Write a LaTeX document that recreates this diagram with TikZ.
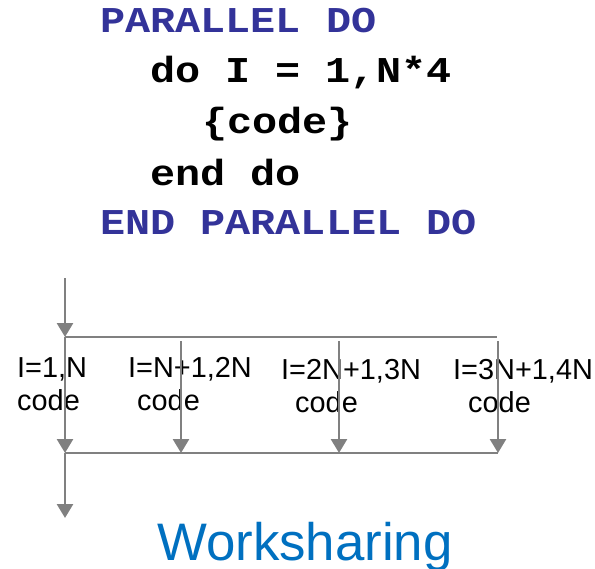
\documentclass[tikz,border=0pt]{standalone}
\usepackage{fontspec}
\setmainfont{Liberation Sans}
\newfontfamily\codefont[FakeStretch=1.15]{Liberation Mono}
\usetikzlibrary{arrows.meta}
\definecolor{kwblue}{RGB}{51,51,153}
\definecolor{titleblue}{RGB}{0,112,192}
\definecolor{flowgray}{RGB}{128,128,128}
\tikzstyle{codeline}=[anchor=base west,inner sep=0pt,font=\codefont\bfseries\fontsize{36.5}{44}\selectfont]
\tikzstyle{iterlabel}=[anchor=base west,inner sep=0pt,font=\fontsize{29}{34}\selectfont]
\tikzstyle{flow}=[draw=flowgray,line width=2.6bp]
\tikzstyle{flowarrow}=[flow,-{Triangle[width=16bp,length=14bp]}]

\begin{document}
\begin{tikzpicture}[x=1bp,y=-1bp]
    \useasboundingbox (0,0) rectangle (595,569);
    % source listing
    \node[codeline,text=kwblue] (l1) at (100,33)  {PARALLEL DO};
    \node[codeline] (l2) at (150,83)  {do I = 1,N*4};
    \node[codeline] (l3) at (202,134) {\{code\}};
    \node[codeline] (l4) at (150,185) {end do};
    \node[codeline,text=kwblue] (l5) at (100,234) {END PARALLEL DO};

    % fork / join points
    \coordinate (start) at (65,278);
    \coordinate (fork)  at (65,337);
    \coordinate (forkend) at (497,337);
    \coordinate (join)  at (65,453);
    \coordinate (joinend) at (498,453);
    \coordinate (stop)  at (65,518);
    \coordinate (t2) at (181,341);
    \coordinate (t3) at (339,341);
    \coordinate (t4) at (498,341);
    \coordinate (b2) at (181,453);
    \coordinate (b3) at (339,453);
    \coordinate (b4) at (498,453);

    % iteration chunks
    \node[iterlabel] (i1) at (17,377)  {I=1,N};
    \node[iterlabel] (c1) at (17,410)  {code};
    \node[iterlabel] (i2) at (128,377) {I=N+1,2N};
    \node[iterlabel] (c2) at (137,410) {code};
    \node[iterlabel] (i3) at (281,379) {I=2N+1,3N};
    \node[iterlabel] (c3) at (295,412) {code};
    \node[iterlabel] (i4) at (453,379) {I=3N+1,4N};
    \node[iterlabel] (c4) at (468,412) {code};

    \draw[flow] (fork) -- (forkend);
    \draw[flow] (join) -- (joinend);
    \foreach \from/\to in {start/fork,fork/join,t2/b2,t3/b3,t4/b4,join/stop}
    \draw[flowarrow] (\from) -- (\to);

    \node[anchor=base,inner sep=0pt,text=titleblue,font=\fontsize{53}{60}\selectfont] (title) at (305,560) {Worksharing};
\end{tikzpicture}
\end{document}
